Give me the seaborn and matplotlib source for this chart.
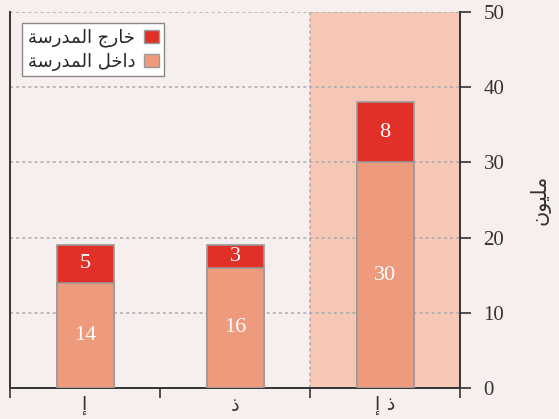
import matplotlib
matplotlib.use("Agg")
import matplotlib.pyplot as plt
from matplotlib.patches import Patch
import seaborn as sns
import pandas as pd

# Arabic strings are stored pre-shaped (presentation forms) in visual order,
# since matplotlib does not apply bidi / contextual shaping itself.
categories = ["\u0625", "\u0630", "\u0625 \u0630"]          # إ ، ذ ، ذ إ
inside_school = [14, 16, 30]
outside_school = [5, 3, 8]
label_outside = "\uFE94\uFEB3\uFEAD\uFEAA\uFEE4\uFEDF\uFE8D \uFE9D\uFEAD\uFE8E\uFEA7"   # خارج المدرسة
label_inside = "\uFE94\uFEB3\uFEAD\uFEAA\uFEE4\uFEDF\uFE8D \uFEDE\uFEA7\uFE8D\uFEA9"    # داخل المدرسة
y_label = "\uFEE5\uFEEE\uFEF4\uFEE0\uFEE3"                                             # مليون
y_ticks = [0, 10, 20, 30, 40, 50]

BG = "#f7efed"
SHADE = "#f6c7b5"
C_IN = "#ee9a7c"
C_OUT = "#e03028"
EDGE = "#9a9a9a"
DARK = "#333333"

sns.set_theme(style="white")
plt.rcParams["font.family"] = ["Liberation Serif", "DejaVu Sans"]

df = pd.DataFrame({
    "cat": categories,
    "inside": inside_school,
    "outside": outside_school,
})
df["total"] = df["inside"] + df["outside"]

fig = plt.figure(figsize=(5.59, 4.19), dpi=100, facecolor=BG)
ax = fig.add_axes([10 / 559, 1 - 388 / 419, (460 - 10) / 559, (388 - 12) / 419])
ax.set_facecolor(BG)

# highlighted last group
ax.axvspan(1.5, 2.5, color=SHADE, zorder=0, lw=0)
ax.axvline(1.5, color="#aaaaaa", ls=(0, (2, 2)), lw=1.1, zorder=1)

# gridlines
for v in y_ticks[1:]:
    ax.axhline(v, color="#aaaaaa", ls=(0, (2, 2)), lw=1.1, zorder=1)

# stacked bars: totals first, then the inside part on top
sns.barplot(data=df, x="cat", y="total", color=C_OUT, saturation=1,
            width=0.38, edgecolor=EDGE, linewidth=1.2, ax=ax, zorder=3)
sns.barplot(data=df, x="cat", y="inside", color=C_IN, saturation=1,
            width=0.38, edgecolor=EDGE, linewidth=1.2, ax=ax, zorder=4)

for i, (a, b) in enumerate(zip(inside_school, outside_school)):
    ax.text(i, a / 2, str(a), ha="center", va="center", color="white",
            fontsize=16, zorder=5)
    ax.text(i, a + b / 2, str(b), ha="center", va="center", color="white",
            fontsize=16, zorder=5)

ax.set_xlim(-0.5, 2.5)
ax.set_ylim(0, 50)
ax.set_xlabel("")
ax.set_ylabel("")

# y axis on the right
ax.yaxis.tick_right()
ax.set_yticks(y_ticks)
ax.tick_params(axis="y", which="major", right=True, left=False, direction="out",
               length=8, width=1.2, color=DARK, labelsize=15, labelcolor=DARK, pad=9)
ax.set_ylabel(y_label, rotation=90, fontsize=15, color=DARK,
              family=["DejaVu Sans"], labelpad=18)
ax.yaxis.set_label_position("right")

# x axis: ticks on group boundaries, labels at group centres
ax.set_xticks([0, 1, 2])
ax.set_xticklabels(categories, fontsize=14, color=DARK, family=["DejaVu Sans"])
ax.set_xticks([-0.5, 0.5, 1.5, 2.5], minor=True)
ax.tick_params(axis="x", which="major", length=0, pad=6)
ax.tick_params(axis="x", which="minor", direction="out", length=7, width=1.2,
               color=DARK, bottom=True)

for side in ["left", "right", "bottom"]:
    ax.spines[side].set_visible(True)
    ax.spines[side].set_color(DARK)
    ax.spines[side].set_linewidth(1.4)
ax.spines["top"].set_visible(False)

handles = [Patch(facecolor=C_OUT, edgecolor=EDGE, label=label_outside),
           Patch(facecolor=C_IN, edgecolor=EDGE, label=label_inside)]
leg = ax.legend(handles=handles, loc="upper left", bbox_to_anchor=(0.027, 0.97),
                markerfirst=False, frameon=True, fancybox=False,
                handlelength=0.8, handleheight=0.8, handletextpad=0.5,
                borderpad=0.3, labelspacing=0.3, borderaxespad=0,
                prop={"family": ["DejaVu Sans"], "size": 13})
leg.get_frame().set_edgecolor("#888888")
leg.get_frame().set_facecolor("white")
leg.get_frame().set_alpha(1)
leg.get_frame().set_linewidth(1.0)
leg.set_zorder(6)

fig.savefig("out.png", dpi=100, facecolor=BG)
